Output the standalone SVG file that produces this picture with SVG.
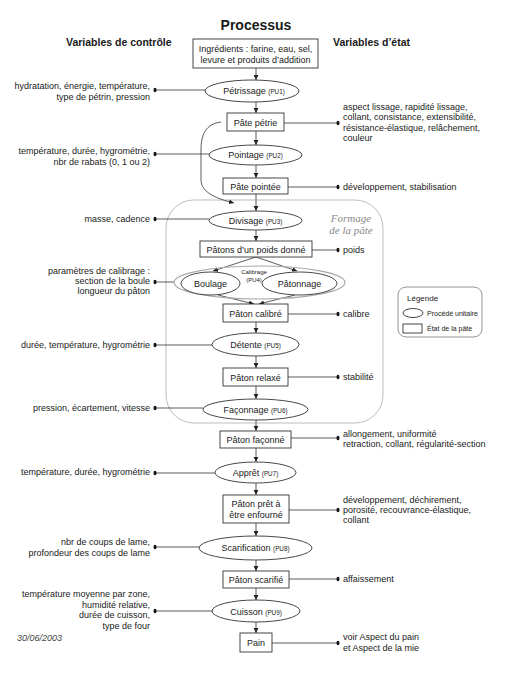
<svg xmlns="http://www.w3.org/2000/svg" width="515" height="683" viewBox="0 0 515 683">
<defs>
<marker id="arr" markerWidth="6" markerHeight="6" refX="5" refY="3" orient="auto" markerUnits="userSpaceOnUse">
<path d="M0,0.6 L5,3 L0,5.4 Z" fill="#222"/>
</marker>
<style>
text{font-family:"Liberation Sans",Arial,sans-serif;fill:#1a1a1a;font-size:9px}
.box{fill:#fff;stroke:#333;stroke-width:0.9}
.ell{fill:#fff;stroke:#333;stroke-width:0.9}
.ln{fill:none;stroke:#333;stroke-width:0.8}
.ar{fill:none;stroke:#333;stroke-width:0.8;marker-end:url(#arr)}
.dot{fill:#111}
.c{text-anchor:middle}
.r{text-anchor:end}
.pu{font-size:6.3px}
.hd{font-weight:bold;font-size:10.5px}
</style>
</defs>
<rect width="515" height="683" fill="#fff"/>

<g id="headers">
<text x="256" y="30" class="c" style="font-size:14px;font-weight:bold">Processus</text>
<text x="66" y="46" class="hd">Variables de contrôle</text>
<text x="333" y="46" class="hd">Variables d’état</text>
<text x="17" y="641" style="font-style:italic;fill:#444">30/06/2003</text>
</g>

<g id="formage">
<rect x="166" y="200" width="217" height="223" rx="28" fill="none" stroke="#bdbdbd" stroke-width="1"/>
<text x="351" y="222" class="c" style="font-family:'Liberation Serif',serif;font-style:italic;font-size:11px;fill:#888">Formage</text>
<text x="351" y="234" class="c" style="font-family:'Liberation Serif',serif;font-style:italic;font-size:11px;fill:#888">de la pâte</text>
</g>

<g id="connectors">
<!-- main flow -->
<line class="ar" x1="256" y1="68" x2="256" y2="80"/>
<line class="ar" x1="256" y1="102" x2="256" y2="113"/>
<line class="ar" x1="256" y1="131" x2="256" y2="145"/>
<line class="ar" x1="256" y1="165" x2="256" y2="178"/>
<line class="ar" x1="256" y1="194" x2="256" y2="211"/>
<line class="ar" x1="256" y1="229" x2="256" y2="241"/>
<line class="ar" x1="256" y1="257" x2="213" y2="271"/>
<line class="ar" x1="256" y1="257" x2="297" y2="271"/>
<line class="ar" x1="218" y1="295" x2="254" y2="304"/>
<line class="ar" x1="295" y1="295" x2="259" y2="304"/>
<line class="ar" x1="256" y1="322" x2="256" y2="333"/>
<line class="ar" x1="256" y1="356" x2="256" y2="368"/>
<line class="ar" x1="256" y1="386" x2="256" y2="399"/>
<line class="ar" x1="256" y1="420" x2="256" y2="431"/>
<line class="ar" x1="256" y1="448" x2="256" y2="462"/>
<line class="ar" x1="256" y1="483" x2="256" y2="495"/>
<line class="ar" x1="256" y1="523" x2="256" y2="536"/>
<line class="ar" x1="256" y1="560" x2="256" y2="571"/>
<line class="ar" x1="256" y1="588" x2="256" y2="600"/>
<line class="ar" x1="256" y1="622" x2="256" y2="633"/>
<path class="ar" d="M221,122 C206,124 201,134 201,150 L201,180 C201,193 218,199 234,203"/>
<!-- control variables -->
<line class="ln" x1="155" y1="90" x2="205" y2="90"/>
<line class="ln" x1="155" y1="154" x2="209" y2="154"/>
<line class="ln" x1="155" y1="219" x2="209" y2="219"/>
<line class="ln" x1="155" y1="282" x2="174" y2="282"/>
<line class="ln" x1="155" y1="345" x2="212" y2="345"/>
<line class="ln" x1="155" y1="408" x2="203" y2="408"/>
<line class="ln" x1="155" y1="473" x2="215" y2="473"/>
<line class="ln" x1="155" y1="547" x2="199" y2="547"/>
<line class="ln" x1="155" y1="611" x2="212" y2="611"/>
<!-- state variables -->
<line class="ln" x1="284" y1="123" x2="338" y2="123"/>
<line class="ln" x1="288" y1="187" x2="338" y2="187"/>
<line class="ln" x1="312" y1="250" x2="338" y2="250"/>
<line class="ln" x1="288" y1="314" x2="338" y2="314"/>
<line class="ln" x1="288" y1="377" x2="338" y2="377"/>
<line class="ln" x1="291" y1="438" x2="338" y2="438"/>
<line class="ln" x1="289" y1="510" x2="338" y2="510"/>
<line class="ln" x1="289" y1="579" x2="338" y2="579"/>
<line class="ln" x1="272" y1="643" x2="338" y2="643"/>
<!-- dots -->
<ellipse class="dot" cx="155" cy="90" rx="1.5" ry="2.3"/>
<ellipse class="dot" cx="155" cy="154" rx="1.5" ry="2.3"/>
<ellipse class="dot" cx="155" cy="219" rx="1.5" ry="2.3"/>
<ellipse class="dot" cx="155" cy="282" rx="1.5" ry="2.3"/>
<ellipse class="dot" cx="155" cy="345" rx="1.5" ry="2.3"/>
<ellipse class="dot" cx="155" cy="408" rx="1.5" ry="2.3"/>
<ellipse class="dot" cx="155" cy="473" rx="1.5" ry="2.3"/>
<ellipse class="dot" cx="155" cy="547" rx="1.5" ry="2.3"/>
<ellipse class="dot" cx="155" cy="611" rx="1.5" ry="2.3"/>
<ellipse class="dot" cx="338" cy="123" rx="1.5" ry="2.3"/>
<ellipse class="dot" cx="338" cy="187" rx="1.5" ry="2.3"/>
<ellipse class="dot" cx="338" cy="250" rx="1.5" ry="2.3"/>
<ellipse class="dot" cx="338" cy="314" rx="1.5" ry="2.3"/>
<ellipse class="dot" cx="338" cy="377" rx="1.5" ry="2.3"/>
<ellipse class="dot" cx="338" cy="438" rx="1.5" ry="2.3"/>
<ellipse class="dot" cx="338" cy="510" rx="1.5" ry="2.3"/>
<ellipse class="dot" cx="338" cy="579" rx="1.5" ry="2.3"/>
<ellipse class="dot" cx="338" cy="643" rx="1.5" ry="2.3"/>
</g>

<g id="ingredients">
<rect class="box" x="193" y="39" width="125" height="29"/>
<text x="255.5" y="52" class="c">Ingrédients : farine, eau, sel,</text>
<text x="255.5" y="63" class="c">levure et produits d’addition</text>
</g>

<g id="petrissage">
<ellipse class="ell" cx="252" cy="91" rx="47" ry="11"/>
<text x="254" y="94" class="c">Pétrissage <tspan class="pu">(PU1)</tspan></text>
</g>
<g id="ctrl-petrissage">
<text x="150" y="89" class="r">hydratation, énergie, température,</text>
<text x="150" y="100" class="r">type de pétrin, pression</text>
</g>

<g id="pate-petrie">
<rect class="box" x="227" y="113" width="57" height="18"/>
<text x="255.5" y="126" class="c">Pâte pétrie</text>
</g>
<g id="etat-pate-petrie">
<text x="343" y="110">aspect lissage, rapidité lissage,</text>
<text x="343" y="120">collant, consistance, extensibilité,</text>
<text x="343" y="131">résistance-élastique, relâchement,</text>
<text x="343" y="141">couleur</text>
</g>

<g id="pointage">
<ellipse class="ell" cx="255.5" cy="155" rx="46.5" ry="10"/>
<text x="255.5" y="158" class="c">Pointage <tspan class="pu">(PU2)</tspan></text>
</g>
<g id="ctrl-pointage">
<text x="150" y="154" class="r">température, durée, hygrométrie,</text>
<text x="150" y="165" class="r">nbr de rabats (0, 1 ou 2)</text>
</g>

<g id="pate-pointee">
<rect class="box" x="223" y="178" width="65" height="16"/>
<text x="255.5" y="189.5" class="c">Pâte pointée</text>
</g>
<g id="etat-pate-pointee">
<text x="343" y="190">développement, stabilisation</text>
</g>

<g id="divisage">
<ellipse class="ell" cx="255.5" cy="220.5" rx="46.5" ry="9.5"/>
<text x="255.5" y="223.5" class="c">Divisage <tspan class="pu">(PU3)</tspan></text>
</g>
<g id="ctrl-divisage">
<text x="150" y="222" class="r">masse, cadence</text>
</g>

<g id="patons">
<rect class="box" x="200" y="241" width="112" height="16"/>
<text x="256" y="252.5" class="c">Pâtons d’un poids donné</text>
</g>
<g id="etat-patons">
<text x="343" y="253">poids</text>
</g>

<g id="calibrage">
<ellipse cx="259.5" cy="282.5" rx="85.5" ry="16.5" fill="none" stroke="#aaa" stroke-width="1.2"/>
<ellipse class="ell" cx="210.5" cy="283.5" rx="29.5" ry="11.5"/>
<text x="210.5" y="286.5" class="c">Boulage</text>
<ellipse class="ell" cx="299.5" cy="283.5" rx="37.5" ry="11.5"/>
<text x="299.5" y="286.5" class="c">Pâtonnage</text>
<text x="254" y="274" class="c" style="font-size:6px">Calibrage</text>
<text x="254" y="282" class="c" style="font-size:6px">(PU4)</text>
</g>
<g id="ctrl-calibrage">
<text x="150" y="274" class="r">paramètres de calibrage :</text>
<text x="150" y="284" class="r">section de la boule</text>
<text x="150" y="294" class="r">longueur du pâton</text>
</g>

<g id="paton-calibre">
<rect class="box" x="223" y="304" width="65" height="18"/>
<text x="255.5" y="317" class="c">Pâton calibré</text>
</g>
<g id="etat-paton-calibre">
<text x="343" y="317">calibre</text>
</g>

<g id="detente">
<ellipse class="ell" cx="255.5" cy="344.5" rx="43.5" ry="11.5"/>
<text x="255.5" y="348" class="c">Détente <tspan class="pu">(PU5)</tspan></text>
</g>
<g id="ctrl-detente">
<text x="150" y="348" class="r">durée, température, hygrométrie</text>
</g>

<g id="paton-relaxe">
<rect class="box" x="223" y="368" width="65" height="18"/>
<text x="255.5" y="380.5" class="c">Pâton relaxé</text>
</g>
<g id="etat-paton-relaxe">
<text x="343" y="380">stabilité</text>
</g>

<g id="faconnage">
<ellipse class="ell" cx="255.5" cy="409.5" rx="52.5" ry="10.5"/>
<text x="255.5" y="412.5" class="c">Façonnage <tspan class="pu">(PU6)</tspan></text>
</g>
<g id="ctrl-faconnage">
<text x="150" y="411" class="r">pression, écartement, vitesse</text>
</g>

<g id="paton-faconne">
<rect class="box" x="220" y="431" width="71" height="17"/>
<text x="255.5" y="442.5" class="c">Pâton façonné</text>
</g>
<g id="etat-paton-faconne">
<text x="343" y="437">allongement, uniformité</text>
<text x="343" y="447">retraction, collant, régularité-section</text>
</g>

<g id="appret">
<ellipse class="ell" cx="255.5" cy="472.5" rx="40.5" ry="10.5"/>
<text x="255.5" y="475.5" class="c">Apprêt <tspan class="pu">(PU7)</tspan></text>
</g>
<g id="ctrl-appret">
<text x="150" y="475" class="r">température, durée, hygrométrie</text>
</g>

<g id="paton-pret">
<rect class="box" x="223" y="495" width="66" height="28"/>
<text x="256" y="507" class="c">Pâton prêt à</text>
<text x="256" y="518" class="c">être enfourné</text>
</g>
<g id="etat-paton-pret">
<text x="343" y="503">développement, déchirement,</text>
<text x="343" y="513">porosité, recouvrance-élastique,</text>
<text x="343" y="523">collant</text>
</g>

<g id="scarification">
<ellipse class="ell" cx="255.5" cy="548" rx="56.5" ry="12"/>
<text x="255.5" y="551" class="c">Scarification <tspan class="pu">(PU8)</tspan></text>
</g>
<g id="ctrl-scarification">
<text x="150" y="545" class="r">nbr de coups de lame,</text>
<text x="150" y="556" class="r">profondeur des coups de lame</text>
</g>

<g id="paton-scarifie">
<rect class="box" x="223" y="571" width="66" height="17"/>
<text x="256" y="582.5" class="c">Pâton scarifié</text>
</g>
<g id="etat-paton-scarifie">
<text x="343" y="582">affaissement</text>
</g>

<g id="cuisson">
<ellipse class="ell" cx="256" cy="611" rx="44" ry="11"/>
<text x="256" y="614.5" class="c">Cuisson <tspan class="pu">(PU9)</tspan></text>
</g>
<g id="ctrl-cuisson">
<text x="150" y="597" class="r">température moyenne par zone,</text>
<text x="150" y="608" class="r">humidité relative,</text>
<text x="150" y="618" class="r">durée de cuisson,</text>
<text x="150" y="629" class="r">type de four</text>
</g>

<g id="pain">
<rect class="box" x="240" y="633" width="32" height="19"/>
<text x="256" y="646" class="c">Pain</text>
</g>
<g id="etat-pain">
<text x="343" y="640">voir Aspect du pain</text>
<text x="343" y="651">et Aspect de la mie</text>
</g>

<g id="legende">
<rect x="398" y="287" width="84" height="50" rx="8" fill="#fff" stroke="#888" stroke-width="0.9"/>
<text x="407" y="301" style="font-size:8px">Légende</text>
<ellipse class="ell" cx="413" cy="313" rx="10" ry="4.5"/>
<text x="427" y="315.5" style="font-size:7px">Procédé unitaire</text>
<rect class="box" x="403" y="324" width="19" height="9"/>
<text x="427" y="330.5" style="font-size:7px">État de la pâte</text>
</g>
</svg>
